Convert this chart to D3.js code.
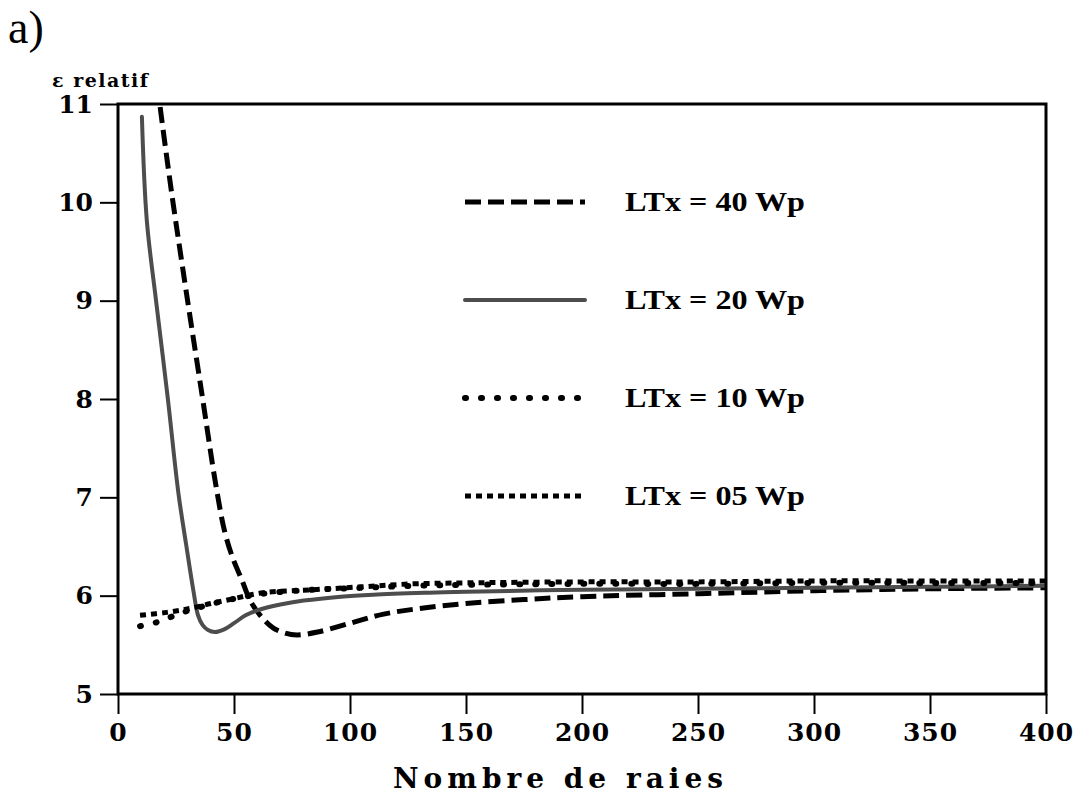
<!DOCTYPE html>
<html>
<head>
<meta charset="utf-8">
<script src="https://cdn.jsdelivr.net/npm/d3@7"></script>
<style>
  body { margin: 0; background: #fff; }
  svg { display: block; }
</style>
</head>
<body>
<div id="wrapper"></div>
<script>
// data
const xTicks = [0, 50, 100, 150, 200, 250, 300, 350, 400]
const yTicks = [5, 6, 7, 8, 9, 10, 11]
const seriesNames = ["LTx = 40 Wp", "LTx = 20 Wp", "LTx = 10 Wp", "LTx = 05 Wp"]

const lt40X = [17, 18, 20.5, 23.7, 30, 36.5, 42, 46, 49.5, 53.4, 57, 62, 67, 72, 77, 86, 100, 114, 130, 150, 175, 200, 250, 300, 350, 400]
const lt40Y = [11.2, 11.0, 10.55, 10.0, 9.0, 8.0, 7.15, 6.65, 6.38, 6.16, 5.95, 5.78, 5.67, 5.62, 5.60, 5.63, 5.72, 5.81, 5.87, 5.92, 5.96, 5.99, 6.02, 6.05, 6.07, 6.08]

const lt20X = [10.3, 12.4, 16.4, 21.5, 26, 29.5, 32.5, 34.5, 36.5, 38.8, 41.8, 46, 50, 55, 60, 70, 80, 96, 110, 134, 150, 200, 250, 300, 350, 400]
const lt20Y = [10.87, 9.82, 9.0, 8.0, 7.05, 6.5, 6.05, 5.8, 5.7, 5.65, 5.63, 5.66, 5.72, 5.8, 5.85, 5.91, 5.95, 5.99, 6.01, 6.03, 6.04, 6.06, 6.07, 6.08, 6.09, 6.10]

const lt10X = [9.5, 16.7, 28, 41, 52.6, 62.5, 84, 105, 127, 150, 200, 250, 300, 350, 400]
const lt10Y = [5.69, 5.73, 5.83, 5.92, 5.98, 6.02, 6.06, 6.08, 6.10, 6.11, 6.12, 6.12, 6.13, 6.13, 6.13]

const lt05X = [9.5, 21, 31, 40, 50, 62.5, 84, 105, 127, 150, 200, 250, 300, 350, 400]
const lt05Y = [5.80, 5.83, 5.87, 5.92, 5.97, 6.03, 6.06, 6.09, 6.12, 6.13, 6.14, 6.14, 6.15, 6.15, 6.15]

async function drawChart() {

  // 1. Access data
  const series = [
    {name: seriesNames[0], xs: lt40X, ys: lt40Y},
    {name: seriesNames[1], xs: lt20X, ys: lt20Y},
    {name: seriesNames[2], xs: lt10X, ys: lt10Y},
    {name: seriesNames[3], xs: lt05X, ys: lt05Y},
  ].map(s => ({name: s.name, values: s.xs.map((x, i) => ({x, y: s.ys[i]}))}))

  const styles = {
    "LTx = 40 Wp": {stroke: "#000", width: 5, dash: "16,7", cap: "butt"},
    "LTx = 20 Wp": {stroke: "#4d4d4d", width: 4, dash: null, cap: "round"},
    "LTx = 10 Wp": {stroke: "#000", width: 6, dash: "1,15", cap: "round"},
    "LTx = 05 Wp": {stroke: "#000", width: 5, dash: "6,5", cap: "butt"},
  }

  // 2. Create chart dimensions
  let dimensions = {
    width: 1082,
    height: 803,
    margin: {
      top: 104,
      right: 36,
      bottom: 109,
      left: 118,
    },
  }
  dimensions.boundedWidth = dimensions.width
    - dimensions.margin.left
    - dimensions.margin.right
  dimensions.boundedHeight = dimensions.height
    - dimensions.margin.top
    - dimensions.margin.bottom

  // 3. Draw canvas
  const wrapper = d3.select("#wrapper")
    .append("svg")
      .attr("width", dimensions.width)
      .attr("height", dimensions.height)

  const bounds = wrapper.append("g")
      .attr("transform", `translate(${dimensions.margin.left},${dimensions.margin.top})`)

  bounds.append("clipPath")
      .attr("id", "plot-clip")
    .append("rect")
      .attr("width", dimensions.boundedWidth)
      .attr("height", dimensions.boundedHeight)

  // 4. Create scales
  const xScale = d3.scaleLinear()
    .domain([0, 400])
    .range([0, dimensions.boundedWidth])

  const yScale = d3.scaleLinear()
    .domain([5, 11])
    .range([dimensions.boundedHeight, 0])

  const lineGenerator = d3.line()
    .x(d => xScale(d.x))
    .y(d => yScale(d.y))
    .curve(d3.curveCatmullRom.alpha(0.5))

  // 5. Draw data
  bounds.append("g")
      .attr("clip-path", "url(#plot-clip)")
    .selectAll("path")
    .data(series)
    .join("path")
      .attr("d", d => lineGenerator(d.values))
      .attr("fill", "none")
      .attr("stroke", d => styles[d.name].stroke)
      .attr("stroke-width", d => styles[d.name].width)
      .attr("stroke-dasharray", d => styles[d.name].dash)
      .attr("stroke-linecap", d => styles[d.name].cap)
      .attr("stroke-linejoin", "round")

  // 6. Draw peripherals
  const yAxis = bounds.append("g")
    .call(d3.axisLeft(yScale).tickValues(yTicks).tickFormat(d3.format("d")).tickSize(18).tickPadding(7))
  yAxis.select(".domain").remove()
  yAxis.selectAll(".tick line").attr("stroke", "#000").attr("stroke-width", 2)
  yAxis.selectAll(".tick text")
      .attr("fill", "#000")
      .style("font-family", "'DejaVu Serif', serif")
      .style("font-weight", "bold")
      .style("font-size", "25px")

  const xAxis = bounds.append("g")
      .attr("transform", `translate(0,${dimensions.boundedHeight})`)
    .call(d3.axisBottom(xScale).tickValues(xTicks).tickSize(20).tickPadding(9))
  xAxis.select(".domain").remove()
  xAxis.selectAll(".tick line").attr("stroke", "#000").attr("stroke-width", 2)
  xAxis.selectAll(".tick text")
      .attr("fill", "#000")
      .style("font-family", "'DejaVu Serif', serif")
      .style("font-weight", "bold")
      .style("font-size", "25px")
      .style("letter-spacing", "1px")

  bounds.append("rect")
      .attr("width", dimensions.boundedWidth)
      .attr("height", dimensions.boundedHeight)
      .attr("fill", "none")
      .attr("stroke", "#000")
      .attr("stroke-width", 3)

  // legend
  const legendY = d3.scalePoint()
    .domain(seriesNames)
    .range([202, 496])

  const legend = wrapper.append("g")
    .selectAll("g")
    .data(series)
    .join("g")
      .attr("transform", d => `translate(0,${legendY(d.name)})`)

  legend.append("line")
      .attr("x1", 465)
      .attr("x2", 585)
      .attr("stroke", d => styles[d.name].stroke)
      .attr("stroke-width", d => styles[d.name].width)
      .attr("stroke-dasharray", d => styles[d.name].dash)
      .attr("stroke-linecap", d => styles[d.name].cap)

  legend.append("text")
      .attr("x", 625)
      .attr("y", 9)
      .attr("textLength", 180)
      .attr("lengthAdjust", "spacingAndGlyphs")
      .style("font-family", "'Liberation Serif', serif")
      .style("font-weight", "bold")
      .style("font-size", "27px")
      .text(d => d.name)

  // titles
  wrapper.append("text")
      .attr("x", 8)
      .attr("y", 43)
      .style("font-family", "'Liberation Serif', serif")
      .style("font-size", "46px")
      .text("a)")

  wrapper.append("text")
      .attr("x", 52)
      .attr("y", 87)
      .attr("textLength", 96)
      .attr("lengthAdjust", "spacing")
      .style("font-family", "'DejaVu Serif', serif")
      .style("font-weight", "bold")
      .style("font-size", "19px")
      .text("ε relatif")

  wrapper.append("text")
      .attr("x", 558)
      .attr("y", 788)
      .attr("text-anchor", "middle")
      .attr("textLength", 330)
      .attr("lengthAdjust", "spacing")
      .style("font-family", "'DejaVu Serif', serif")
      .style("font-weight", "bold")
      .style("font-size", "28px")
      .text("Nombre de raies")
}

drawChart()
</script>
</body>
</html>
